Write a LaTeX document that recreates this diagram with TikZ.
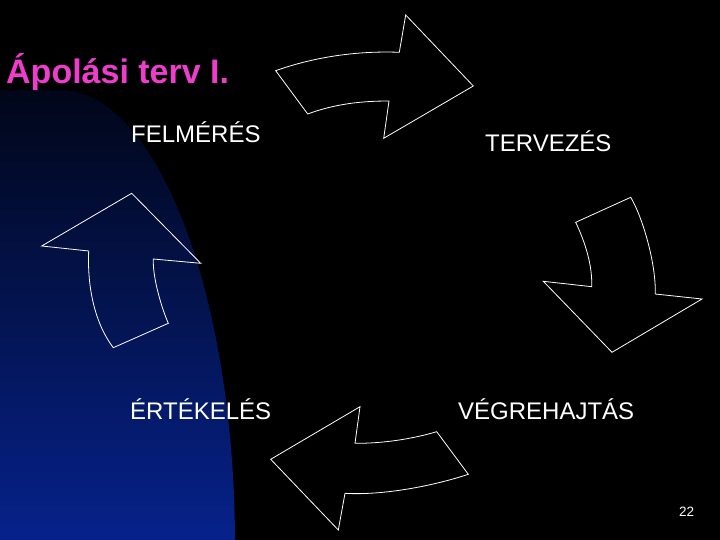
\documentclass[tikz,border=0pt]{standalone}
\usepackage{fontspec}
\setmainfont{Liberation Sans}
\definecolor{titlepink}{RGB}{238,60,204}
\definecolor{navytop}{RGB}{1,6,24}
\definecolor{navybot}{RGB}{6,34,140}
\begin{document}
\begin{tikzpicture}[x=1pt,y=-1pt,
  arrowshape/.style={draw=white,line width=0.8pt,line join=miter},
  lbl/.style={anchor=base west,inner sep=0pt,text=white,font=\fontsize{24}{24}\selectfont}]
\useasboundingbox (0,0) rectangle (720,540);
\fill[black] (0,0) rectangle (720,540);
% blue background shape
\begin{scope}
\clip (0,545) -- (0,90) -- (60,90) arc[start angle=-90,end angle=0,x radius=175,y radius=455] -- cycle;
\shade[top color=navytop,bottom color=navybot] (0,88) rectangle (240,545);
\end{scope}
% title
\node[anchor=base west,inner sep=0pt,text=titlepink,font=\fontsize{34}{34}\selectfont\bfseries] (title) at (6,84) {Ápolási terv I.};
% labels
\node[lbl] (felmeres) at (131,143) {FELMÉRÉS};
\node[lbl] (tervezes) at (485,152) {TERVEZÉS};
\node[lbl] (ertekeles) at (130,419) {ÉRTÉKELÉS};
\node[lbl] (vegrehajtas) at (458,419) {VÉGREHAJTÁS};
\node[anchor=base west,inner sep=0pt,text=white,font=\fontsize{13.5}{13.5}\selectfont] (page) at (679,516) {22};
% top arrow
\draw[arrowshape] (275.7,70.7) .. controls (315.7,56.4) and (359.3,50.7) .. (399.3,52.3)
  -- (405.7,15) -- (473.3,86) -- (383.7,138.3) -- (389,101)
  .. controls (361,101) and (334.7,104) .. (307.7,114) -- cycle;
% right arrow
\draw[arrowshape] (575.7,222.3) -- (630.7,197.3)
  .. controls (642,216) and (656,262) .. (655.3,294)
  -- (702,299) -- (612,352.3) -- (543.3,281.3) -- (591.7,286.7)
  .. controls (592.5,265) and (585,242) .. (575.7,222.3) -- cycle;
% bottom arrow
\draw[arrowshape] (360,406.7) -- (270.7,459.3) -- (338.3,530) -- (345,493.3)
  .. controls (380,495.5) and (430,487) .. (468.3,474.3)
  -- (436.7,431.7)
  .. controls (412,439) and (383,443.5) .. (355,443.3) -- cycle;
% left arrow
\draw[arrowshape] (131.7,193.3) -- (41.7,246) -- (88.7,251)
  .. controls (87,290) and (96,325) .. (113.3,347.7)
  -- (168.3,323.3)
  .. controls (162,309) and (152.5,278) .. (153.3,259)
  -- (200.7,263.3) -- cycle;
\end{tikzpicture}
\end{document}
